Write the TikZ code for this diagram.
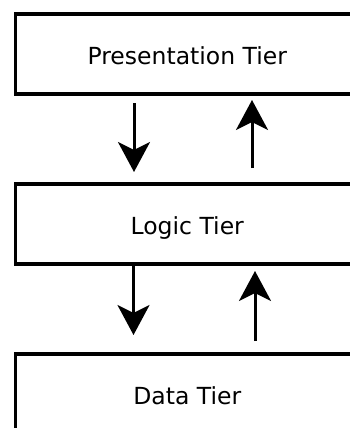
\documentclass[tikz,border=0pt]{standalone}
\usepackage{fontspec}
\setmainfont{DejaVu Sans}
\usetikzlibrary{arrows.meta}

\tikzset{
  tier/.style={draw=black, line width=3.5pt, fill=white, rectangle,
    minimum width=343.5pt, minimum height=80pt, inner sep=0pt,
    font=\fontsize{23.5}{28}\selectfont, text height=20pt, text depth=0pt},
  flow/.style={line width=3pt,
    -{Stealth[length=30pt, width=32pt, inset=8pt]}}
}

\begin{document}
\begin{tikzpicture}[x=1pt, y=-1pt]
  \useasboundingbox (0,0) rectangle (349,428);

  % the three tiers, stacked top to bottom
  \node[tier] (pres)  at (187.25,54)  {Presentation Tier};
  \node[tier] (logic) at (187.25,224) {Logic Tier};
  \node[tier] (data)  at (187.25,394) {Data Tier};

  % ends of the request / response arrows between the tiers
  \coordinate (req1a) at (134,103);
  \coordinate (req1b) at (134,172);
  \coordinate (res1a) at (252,168);
  \coordinate (res1b) at (252,100);
  \coordinate (req2a) at (133.5,264);
  \coordinate (req2b) at (133.5,335);
  \coordinate (res2a) at (255,341);
  \coordinate (res2b) at (255,271);

  \draw[flow] (req1a) -- (req1b);
  \draw[flow] (res1a) -- (res1b);
  \draw[flow] (req2a) -- (req2b);
  \draw[flow] (res2a) -- (res2b);
\end{tikzpicture}
\end{document}
